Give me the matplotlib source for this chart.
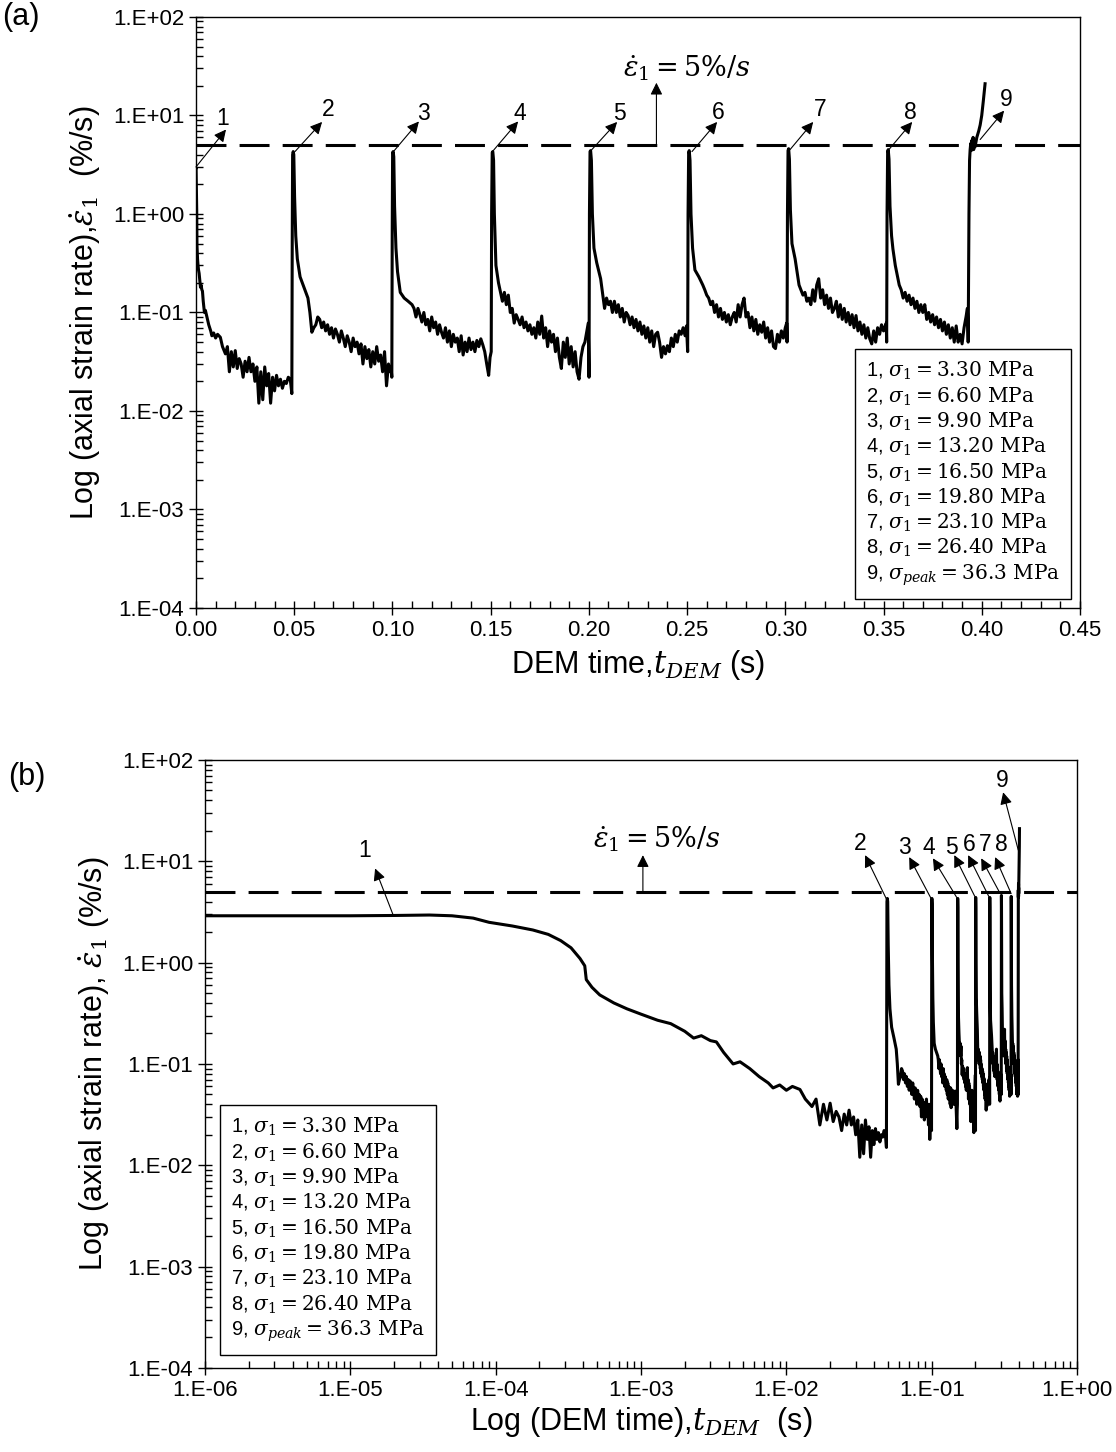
import numpy as np
import matplotlib
matplotlib.use('Agg')
import matplotlib.pyplot as plt
from matplotlib.lines import Line2D
from matplotlib.ticker import (FuncFormatter, LogLocator, MultipleLocator,
                               NullFormatter, FormatStrFormatter)

plt.rcParams['font.family'] = ['Liberation Sans', 'DejaVu Sans']
plt.rcParams['mathtext.fontset'] = 'custom'
plt.rcParams['mathtext.rm'] = 'DejaVu Serif'
plt.rcParams['mathtext.it'] = 'DejaVu Serif:italic'
plt.rcParams['mathtext.bf'] = 'DejaVu Serif:bold'

# ---- data (DEM time in s, axial strain rate in %/s) ----
t1 = [1e-6, 3e-6, 1e-5, 2e-5, 3.5e-5, 5e-5, 7e-5, 9e-5, 1.3e-4, 1.8e-4,
      2.3e-4, 2.8e-4, 3.3e-4, 3.8e-4, 4.1e-4, 4.2e-4, 4.6e-4, 5.2e-4, 6.5e-4, 8e-4,
      1.0e-3, 1.3e-3, 1.6e-3, 2.0e-3, 2.3e-3, 2.6e-3, 3.0e-3, 3.3e-3, 3.7e-3, 4.3e-3,
      4.8e-3, 5.6e-3, 6.5e-3, 7.5e-3, 8.1e-3, 9.0e-3, 0.010, 0.011, 0.0124, 0.0135,
      0.015, 0.016, 0.017, 0.018, 0.019, 0.020, 0.021, 0.022, 0.023, 0.024,
      0.025, 0.026, 0.027, 0.028, 0.029, 0.030, 0.031, 0.032, 0.033, 0.034,
      0.035, 0.036, 0.037, 0.038, 0.039, 0.040, 0.041, 0.042, 0.043, 0.044,
      0.045, 0.046, 0.047, 0.048, 0.0488]
v1 = [2.9, 2.9, 2.9, 2.92, 2.95, 2.9, 2.75, 2.5, 2.3, 2.1,
      1.9, 1.65, 1.4, 1.1, 0.93, 0.68, 0.57, 0.48, 0.40, 0.35,
      0.31, 0.27, 0.25, 0.21, 0.18, 0.19, 0.17, 0.165, 0.13, 0.10,
      0.105, 0.09, 0.075, 0.065, 0.058, 0.062, 0.055, 0.060, 0.056, 0.045,
      0.038, 0.045, 0.025, 0.040, 0.028, 0.041, 0.027, 0.034, 0.030, 0.022,
      0.032, 0.025, 0.035, 0.025, 0.030, 0.020, 0.028, 0.012, 0.025, 0.013,
      0.028, 0.018, 0.024, 0.012, 0.022, 0.016, 0.023, 0.018, 0.021, 0.017,
      0.020, 0.019, 0.022, 0.021, 0.015]

t2 = [0.0490, 0.0492, 0.0495, 0.0498, 0.0502, 0.0508, 0.0516, 0.053, 0.055, 0.057,
      0.058, 0.059, 0.060, 0.061, 0.062, 0.063, 0.064, 0.065, 0.066, 0.067,
      0.068, 0.069, 0.070, 0.071, 0.072, 0.073, 0.074, 0.075, 0.076, 0.077,
      0.078, 0.079, 0.080, 0.081, 0.082, 0.083, 0.084, 0.085, 0.086, 0.087,
      0.088, 0.089, 0.090, 0.091, 0.092, 0.093, 0.094, 0.095, 0.096, 0.097,
      0.098, 0.0987, 0.0993]
v2 = [0.5, 4.0, 4.3, 4.0, 1.5, 0.6, 0.35, 0.23, 0.18, 0.14,
      0.10, 0.063, 0.070, 0.075, 0.090, 0.085, 0.070, 0.080, 0.065, 0.075,
      0.060, 0.070, 0.055, 0.068, 0.060, 0.050, 0.065, 0.055, 0.045, 0.058,
      0.050, 0.040, 0.055, 0.045, 0.050, 0.038, 0.048, 0.030, 0.045, 0.034,
      0.042, 0.028, 0.040, 0.030, 0.045, 0.032, 0.037, 0.025, 0.040, 0.018,
      0.030, 0.025, 0.028]

t3 = [0.0997, 0.0999, 0.1001, 0.1004, 0.1007, 0.1011, 0.1018, 0.1026, 0.104, 0.106,
      0.108, 0.110, 0.111, 0.112, 0.113, 0.114, 0.115, 0.116, 0.117, 0.118,
      0.119, 0.120, 0.121, 0.122, 0.123, 0.124, 0.125, 0.126, 0.127, 0.128,
      0.129, 0.130, 0.131, 0.132, 0.133, 0.134, 0.135, 0.136, 0.137, 0.138,
      0.139, 0.140, 0.141, 0.142, 0.143, 0.144, 0.145, 0.146, 0.147, 0.148,
      0.149, 0.1497]
v3 = [0.022, 0.6, 4.2, 4.3, 3.8, 1.2, 0.45, 0.26, 0.16, 0.14,
      0.13, 0.12, 0.11, 0.09, 0.11, 0.095, 0.08, 0.10, 0.075, 0.085,
      0.065, 0.09, 0.07, 0.08, 0.06, 0.075, 0.063, 0.055, 0.07, 0.05,
      0.065, 0.045, 0.06, 0.05, 0.055, 0.04, 0.058, 0.037, 0.05, 0.04,
      0.055, 0.042, 0.05, 0.04, 0.052, 0.045, 0.054, 0.047, 0.04, 0.03,
      0.023, 0.035]

t4 = [0.1503, 0.1505, 0.1508, 0.1511, 0.1515, 0.1519, 0.1527, 0.154, 0.156, 0.157,
      0.158, 0.159, 0.160, 0.161, 0.162, 0.163, 0.164, 0.165, 0.166, 0.167,
      0.168, 0.169, 0.170, 0.171, 0.172, 0.173, 0.174, 0.175, 0.176, 0.177,
      0.178, 0.179, 0.180, 0.181, 0.182, 0.183, 0.184, 0.185, 0.186, 0.187,
      0.188, 0.189, 0.190, 0.191, 0.192, 0.193, 0.194, 0.195, 0.196, 0.197,
      0.198, 0.199, 0.1997]
v4 = [0.04, 1.0, 4.2, 4.3, 3.5, 1.0, 0.3, 0.2, 0.13, 0.16,
      0.12, 0.15, 0.10, 0.11, 0.078, 0.095, 0.085, 0.075, 0.09, 0.07,
      0.08, 0.065, 0.075, 0.06, 0.07, 0.055, 0.08, 0.06, 0.092, 0.055,
      0.07, 0.045, 0.065, 0.05, 0.06, 0.04, 0.055, 0.035, 0.027, 0.05,
      0.035, 0.055, 0.03, 0.045, 0.028, 0.04, 0.025, 0.021, 0.035, 0.045,
      0.05, 0.065, 0.078]

t5 = [0.2001, 0.2003, 0.2006, 0.2009, 0.2013, 0.2018, 0.2026, 0.204, 0.206, 0.208,
      0.209, 0.210, 0.211, 0.212, 0.213, 0.214, 0.215, 0.216, 0.217, 0.218,
      0.219, 0.220, 0.221, 0.222, 0.223, 0.224, 0.225, 0.226, 0.227, 0.228,
      0.229, 0.230, 0.231, 0.232, 0.233, 0.234, 0.235, 0.236, 0.237, 0.238,
      0.239, 0.240, 0.241, 0.242, 0.243, 0.244, 0.245, 0.246, 0.247, 0.248,
      0.249, 0.2497]
v5 = [0.022, 1.0, 4.3, 4.4, 3.5, 1.0, 0.45, 0.32, 0.22, 0.11,
      0.14, 0.12, 0.13, 0.10, 0.13, 0.10, 0.12, 0.09, 0.11, 0.08,
      0.10, 0.093, 0.075, 0.09, 0.07, 0.085, 0.065, 0.08, 0.06, 0.073,
      0.055, 0.07, 0.05, 0.065, 0.045, 0.06, 0.063, 0.05, 0.035, 0.045,
      0.038, 0.046, 0.04, 0.055, 0.045, 0.06, 0.05, 0.065, 0.06, 0.07,
      0.058, 0.073]

t6 = [0.2503, 0.2505, 0.2508, 0.2511, 0.2515, 0.2520, 0.2528, 0.254, 0.256, 0.258,
      0.259, 0.260, 0.261, 0.262, 0.263, 0.264, 0.265, 0.266, 0.267, 0.268,
      0.269, 0.270, 0.271, 0.272, 0.273, 0.274, 0.275, 0.276, 0.277, 0.278,
      0.279, 0.280, 0.281, 0.282, 0.283, 0.284, 0.285, 0.286, 0.287, 0.288,
      0.289, 0.290, 0.291, 0.292, 0.293, 0.294, 0.295, 0.296, 0.297, 0.298,
      0.299, 0.300, 0.3007]
v6 = [0.04, 1.0, 4.2, 4.4, 3.5, 1.0, 0.45, 0.27, 0.23, 0.19,
      0.17, 0.15, 0.14, 0.12, 0.13, 0.10, 0.12, 0.09, 0.11, 0.085,
      0.10, 0.08, 0.095, 0.075, 0.09, 0.10, 0.08, 0.12, 0.09, 0.12,
      0.14, 0.09, 0.10, 0.07, 0.09, 0.065, 0.085, 0.06, 0.075, 0.063,
      0.08, 0.055, 0.07, 0.05, 0.065, 0.045, 0.043, 0.06, 0.05, 0.065,
      0.055, 0.07, 0.078]

t7 = [0.3009, 0.3011, 0.3014, 0.3017, 0.3021, 0.3026, 0.3034, 0.305, 0.307, 0.309,
      0.310, 0.311, 0.312, 0.313, 0.314, 0.315, 0.316, 0.317, 0.318, 0.319,
      0.320, 0.321, 0.322, 0.323, 0.324, 0.325, 0.326, 0.327, 0.328, 0.329,
      0.330, 0.331, 0.332, 0.333, 0.334, 0.335, 0.336, 0.337, 0.338, 0.339,
      0.340, 0.341, 0.342, 0.343, 0.344, 0.345, 0.346, 0.347, 0.348, 0.349,
      0.350, 0.3514]
v7 = [0.05, 1.0, 4.4, 4.6, 3.6, 1.1, 0.5, 0.35, 0.19, 0.15,
      0.16, 0.13, 0.14, 0.12, 0.17, 0.13, 0.19, 0.22, 0.14, 0.17,
      0.12, 0.15, 0.11, 0.14, 0.10, 0.11, 0.13, 0.09, 0.12, 0.085,
      0.11, 0.08, 0.10, 0.075, 0.095, 0.07, 0.093, 0.065, 0.08, 0.06,
      0.075, 0.055, 0.07, 0.054, 0.048, 0.065, 0.05, 0.07, 0.06, 0.075,
      0.065, 0.078]

t8 = [0.3516, 0.3518, 0.3521, 0.3524, 0.3528, 0.3533, 0.3541, 0.3548, 0.356, 0.358,
      0.359, 0.360, 0.361, 0.362, 0.363, 0.364, 0.365, 0.366, 0.367, 0.368,
      0.369, 0.370, 0.371, 0.372, 0.373, 0.374, 0.375, 0.376, 0.377, 0.378,
      0.379, 0.380, 0.381, 0.382, 0.383, 0.384, 0.385, 0.386, 0.387, 0.388,
      0.389, 0.390, 0.391, 0.392, 0.3927, 0.3931]
v8 = [0.05, 1.0, 4.3, 4.5, 3.6, 1.2, 0.6, 0.44, 0.30, 0.19,
      0.17, 0.14, 0.16, 0.13, 0.15, 0.12, 0.14, 0.11, 0.13, 0.10,
      0.12, 0.10, 0.12, 0.085, 0.10, 0.08, 0.095, 0.075, 0.09, 0.07,
      0.085, 0.065, 0.08, 0.06, 0.075, 0.055, 0.07, 0.05, 0.073, 0.05,
      0.06, 0.048, 0.07, 0.09, 0.11, 0.05]

t9 = [0.3935, 0.3938, 0.3941, 0.3944, 0.3947, 0.3950, 0.3953, 0.3956, 0.3959, 0.3962,
      0.3966, 0.3975, 0.3985, 0.3992, 0.4000, 0.4008, 0.4017]
v9 = [1.0, 3.5, 4.5, 5.2, 4.4, 5.6, 4.6, 6.0, 4.5, 5.5,
      4.8, 6.0, 7.0, 8.0, 10.0, 14.0, 21.0]

rate_limit = 5.0  # %/s
stage_ids = ['1', '2', '3', '4', '5', '6', '7', '8', '9']
stress_vals = ['3.30', '6.60', '9.90', '13.20', '16.50', '19.80', '23.10', '26.40', '36.3']

t_all = np.concatenate([t1, t2, t3, t4, t5, t6, t7, t8, t9])
v_all = np.concatenate([v1, v2, v3, v4, v5, v6, v7, v8, v9])

# annotation layout: (label position, arrow head, arrow tail)
ann_top = [((0.0137, 9.4), (0.0153, 7.2), (0.0, 3.0)),
           ((0.0672, 11.5), (0.0642, 8.6), (0.0504, 4.3)),
           ((0.1156, 10.5), (0.1135, 8.7), (0.1003, 4.25)),
           ((0.1650, 10.5), (0.1640, 8.7), (0.1507, 4.25)),
           ((0.2154, 10.5), (0.2144, 8.6), (0.2006, 4.3)),
           ((0.2658, 10.8), (0.2653, 8.6), (0.2525, 4.3)),
           ((0.3177, 11.5), (0.3142, 8.6), (0.3024, 4.5)),
           ((0.3635, 10.8), (0.3646, 8.6), (0.3523, 4.4)),
           ((0.4124, 14.5), (0.4114, 11.2), (0.3992, 5.7))]
ann_bot = [((1.26e-5, 12.9), (1.48e-5, 8.5), (1.97e-5, 2.95)),
           ((0.0322, 15.1), (0.0348, 11.5), (0.0486, 4.3)),
           ((0.0647, 13.8), (0.0700, 11.0), (0.1007, 4.1)),
           ((0.0962, 13.8), (0.1020, 10.7), (0.1500, 4.3)),
           ((0.1360, 13.8), (0.1430, 11.5), (0.1995, 4.4)),
           ((0.1810, 14.7), (0.1780, 11.5), (0.2490, 4.4)),
           ((0.2330, 14.7), (0.2190, 10.7), (0.2960, 4.8)),
           ((0.3000, 14.7), (0.2730, 11.0), (0.3520, 4.8)),
           ((0.3050, 63.0), (0.3100, 48.0), (0.3940, 12.9))]


def log_label(v, pos):
    return '1.E{:+03d}'.format(int(round(np.log10(v))))


def style_y(ax):
    ax.set_yscale('log')
    ax.set_ylim(1e-4, 1e2)
    ax.yaxis.set_major_locator(LogLocator(base=10, numticks=12))
    ax.yaxis.set_minor_locator(LogLocator(base=10, subs=np.arange(2, 10), numticks=12))
    ax.yaxis.set_major_formatter(FuncFormatter(log_label))
    ax.yaxis.set_minor_formatter(NullFormatter())
    ax.tick_params(which='major', direction='inout', length=10, width=1,
                   labelsize=16, top=False, right=False)
    ax.tick_params(which='minor', direction='in', length=5, width=1,
                   top=False, right=False)
    for sp in ax.spines.values():
        sp.set_linewidth(1.0)


def draw_common(ax, ann, limit_arrow, limit_text):
    ax.plot(t_all, v_all, color='k', lw=2.2, zorder=3)
    ax.axhline(rate_limit, color='k', lw=2.2, dashes=(9.8, 4.3), zorder=2)
    arrow = dict(arrowstyle='-|>', color='k', lw=0.8, mutation_scale=18,
                 shrinkA=0, shrinkB=0)
    for sid, (txt, head, tail) in zip(stage_ids, ann):
        ax.annotate('', xy=head, xytext=tail, arrowprops=arrow, zorder=4)
        ax.text(txt[0], txt[1], sid, ha='center', va='center', fontsize=16.5)
    ax.annotate('', xy=limit_arrow[1], xytext=limit_arrow[0], arrowprops=arrow)
    ax.text(limit_text[0], limit_text[1], r'$\dot{\varepsilon}_1 = 5\%/s$',
            ha='center', va='center', fontsize=19.5)
    labels = [r'%s, $\sigma_1 = %s\ \mathrm{MPa}$' % (s, p)
              for s, p in zip(stage_ids[:-1], stress_vals[:-1])]
    labels.append(r'%s, $\sigma_{peak} = %s\ \mathrm{MPa}$' % (stage_ids[-1], stress_vals[-1]))
    handles = [Line2D([], [], linestyle='none') for _ in labels]
    return handles, labels


def add_legend(ax, handles, labels, loc, anchor):
    leg = ax.legend(handles, labels, loc=loc, bbox_to_anchor=anchor,
                    fancybox=False, edgecolor='k', framealpha=1, handlelength=0,
                    handletextpad=0, borderpad=0.55, labelspacing=0.15, fontsize=14.5,
                    borderaxespad=0)
    leg.get_frame().set_linewidth(1.0)


def main():
    fig = plt.figure(figsize=(11.16, 14.52), dpi=100)

    # (a) linear time
    ax = fig.add_axes([0.1756, 0.5813, 0.7921, 0.4070])
    handles, labels = draw_common(ax, ann_top, ((0.2344, 5.0), (0.2344, 21.5)), (0.250, 30.0))
    style_y(ax)
    ax.set_xlim(0, 0.45)
    ax.xaxis.set_major_locator(MultipleLocator(0.05))
    ax.xaxis.set_minor_locator(MultipleLocator(0.01))
    ax.xaxis.set_major_formatter(FormatStrFormatter('%.2f'))
    add_legend(ax, handles, labels, 'lower right', (0.99, 0.015))
    ax.set_xlabel(r'DEM time,$t_{DEM}$ (s)', fontsize=22, labelpad=5)
    ax.set_ylabel(r'Log (axial strain rate),$\dot{\varepsilon}_1$  (%/s)', fontsize=22, labelpad=7)

    # (b) log time
    ax = fig.add_axes([0.1837, 0.0579, 0.7814, 0.4187])
    handles, labels = draw_common(ax, ann_bot, ((1.03e-3, 5.0), (1.03e-3, 11.5)), (1.29e-3, 16.5))
    style_y(ax)
    ax.set_xscale('log')
    ax.set_xlim(1e-6, 1)
    ax.xaxis.set_major_locator(LogLocator(base=10, numticks=12))
    ax.xaxis.set_minor_locator(LogLocator(base=10, subs=np.arange(2, 10), numticks=12))
    ax.xaxis.set_major_formatter(FuncFormatter(log_label))
    ax.xaxis.set_minor_formatter(NullFormatter())
    add_legend(ax, handles, labels, 'lower left', (0.017, 0.021))
    ax.set_xlabel(r'Log (DEM time),$t_{DEM}$  (s)', fontsize=22, labelpad=3)
    ax.set_ylabel(r'Log (axial strain rate), $\dot{\varepsilon}_1$ (%/s)', fontsize=22, labelpad=7)

    fig.text(0.002, 0.988, '(a)', fontsize=22, ha='left', va='center')
    fig.text(0.007, 0.465, '(b)', fontsize=22, ha='left', va='center')

    fig.savefig('out.png', dpi=100)


if __name__ == '__main__':
    main()
